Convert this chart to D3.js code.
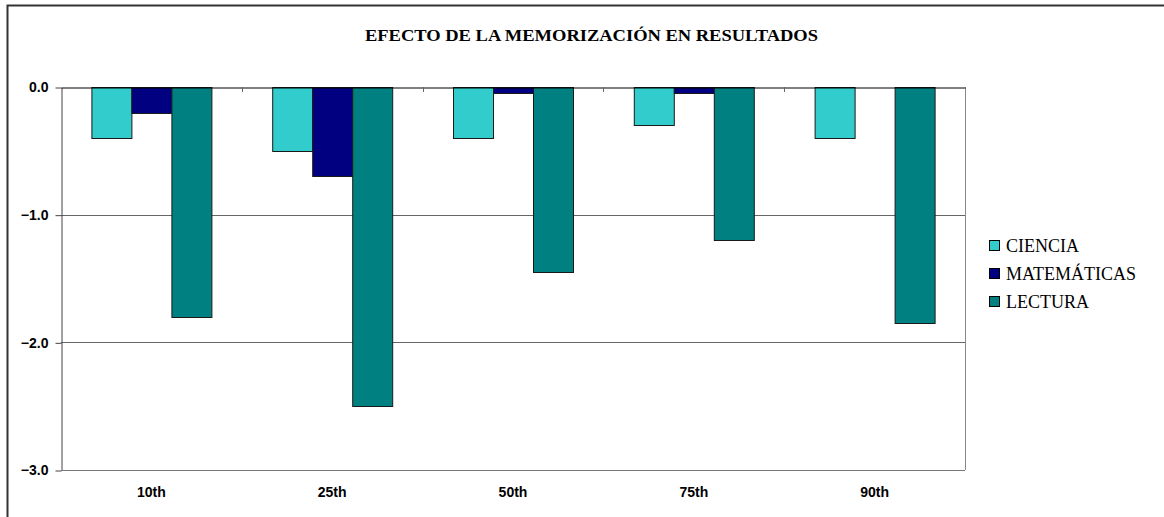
<!DOCTYPE html>
<html>
<head>
<meta charset="utf-8">
<script src="https://cdn.jsdelivr.net/npm/d3@7"></script>
<style>
  body { margin: 0; background: #fff; }
</style>
</head>
<body>
<script>
(function (d3) {
	'use strict';

	var width = 1164,
	    height = 517;

	// data
	var categories = ['10th', '25th', '50th', '75th', '90th'];
	var seriesNames = ['CIENCIA', 'MATEMÁTICAS', 'LECTURA'];
	var ciencia = [-0.4, -0.5, -0.4, -0.3, -0.4];
	var matematicas = [-0.2, -0.7, -0.05, -0.05, 0];
	var lectura = [-1.8, -2.5, -1.45, -1.2, -1.85];
	var yTicks = [0, -1, -2, -3];
	var colors = ['#33CCCC', '#000080', '#008080'];

	var series = [ciencia, matematicas, lectura];

	var plot = { left: 61, right: 965, top: 87, bottom: 470 };

	var svg = d3.select('body')
		.append('svg')
		.attr('width', width)
		.attr('height', height);

	// outer chart border
	svg.append('rect')
		.attr('x', 7.5)
		.attr('y', 5.5)
		.attr('width', width + 10)
		.attr('height', height + 10)
		.attr('fill', 'none')
		.attr('stroke', '#333')
		.attr('stroke-width', 2);

	svg.append('text')
		.attr('x', 365)
		.attr('y', 41)
		.attr('textLength', 453)
		.attr('lengthAdjust', 'spacingAndGlyphs')
		.attr('font-family', '"Liberation Serif", "Times New Roman", serif')
		.attr('font-weight', 'bold')
		.attr('font-size', '16px')
		.text('EFECTO DE LA MEMORIZACIÓN EN RESULTADOS');

	var x0 = d3.scaleBand()
		.domain(categories)
		.range([plot.left, plot.right]);

	var x1 = d3.scaleBand()
		.domain(d3.range(series.length))
		.range([0, 120]);

	var y = d3.scaleLinear()
		.domain([-3, 0])
		.range([plot.bottom, plot.top]);

	// gridlines
	svg.selectAll('line.grid')
		.data(yTicks.filter(function (d) { return d !== 0; }))
		.enter()
		.append('line')
		.attr('class', 'grid')
		.attr('x1', plot.left)
		.attr('x2', plot.right)
		.attr('y1', function (d) { return Math.round(y(d)) + 0.5; })
		.attr('y2', function (d) { return Math.round(y(d)) + 0.5; })
		.attr('stroke', '#666')
		.attr('stroke-width', 1);

	// right border of plot area
	svg.append('line')
		.attr('x1', plot.right + 0.5)
		.attr('x2', plot.right + 0.5)
		.attr('y1', plot.top)
		.attr('y2', plot.bottom)
		.attr('stroke', '#888');

	// bars
	var groups = svg.selectAll('g.cat')
		.data(categories)
		.enter()
		.append('g')
		.attr('class', 'cat')
		.attr('transform', function (d) {
			return 'translate(' + (x0(d) + (x0.bandwidth() - 120) / 2) + ',0)';
		});

	groups.selectAll('rect')
		.data(function (d, i) {
			return series.map(function (s, k) { return { k: k, v: s[i] }; })
				.filter(function (e) { return e.v !== 0; });
		})
		.enter()
		.append('rect')
		.attr('x', function (d) { return Math.round(x1(d.k)) + 0.5; })
		.attr('y', Math.round(y(0)) + 0.5)
		.attr('width', x1.bandwidth())
		.attr('height', function (d) { return Math.round(y(d.v) - y(0)); })
		.attr('fill', function (d) { return colors[d.k]; })
		.attr('stroke', '#1a1a1a')
		.attr('stroke-width', 1);

	// y axis
	var yAxis = svg.append('g')
		.attr('transform', 'translate(' + (plot.left + 0.5) + ',0.5)')
		.call(d3.axisLeft(y).tickValues(yTicks).tickSize(6).tickSizeOuter(0)
			.tickFormat(d3.format('.1f')));
	yAxis.select('.domain').attr('stroke', '#444');
	yAxis.selectAll('.tick line').attr('stroke', '#444');
	yAxis.selectAll('.tick text')
		.attr('x', -13)
		.attr('font-family', 'Arial, "Liberation Sans", sans-serif')
		.attr('font-weight', 'bold')
		.attr('font-size', '14px')
		.attr('fill', '#000');

	// x axis at zero
	var xAxis = svg.append('g')
		.attr('transform', 'translate(0,' + (Math.round(y(0)) + 0.5) + ')')
		.call(d3.axisBottom(x0).tickSize(0).tickSizeOuter(0));
	xAxis.select('.domain').attr('stroke', '#000');
	xAxis.selectAll('.tick text').remove();

	// tick marks on category boundaries
	svg.selectAll('line.xtick')
		.data(categories.slice(1))
		.enter()
		.append('line')
		.attr('class', 'xtick')
		.attr('x1', function (d) { return Math.round(x0(d)) + 0.5; })
		.attr('x2', function (d) { return Math.round(x0(d)) + 0.5; })
		.attr('y1', y(0))
		.attr('y2', y(0) + 5)
		.attr('stroke', '#666');

	// bottom line of plot area
	svg.append('line')
		.attr('x1', plot.left)
		.attr('x2', plot.right)
		.attr('y1', Math.round(y(-3)) + 0.5)
		.attr('y2', Math.round(y(-3)) + 0.5)
		.attr('stroke', '#777');

	// category labels at bottom
	svg.selectAll('text.cat')
		.data(categories)
		.enter()
		.append('text')
		.attr('class', 'cat')
		.attr('x', function (d) { return x0(d) + x0.bandwidth() / 2; })
		.attr('y', 497)
		.attr('text-anchor', 'middle')
		.attr('font-family', 'Arial, "Liberation Sans", sans-serif')
		.attr('font-weight', 'bold')
		.attr('font-size', '14px')
		.text(function (d) { return d; });

	// legend
	var legend = svg.selectAll('g.legend')
		.data(seriesNames)
		.enter()
		.append('g')
		.attr('class', 'legend')
		.attr('transform', function (d, i) { return 'translate(989,' + (240 + i * 28) + ')'; });

	legend.append('rect')
		.attr('x', 0.5)
		.attr('y', 0.5)
		.attr('width', 10)
		.attr('height', 10)
		.attr('fill', function (d, i) { return colors[i]; })
		.attr('stroke', '#000');

	legend.append('text')
		.attr('x', 17)
		.attr('y', 12)
		.attr('font-family', '"Liberation Serif", "Times New Roman", serif')
		.attr('font-size', '18px')
		.text(function (d) { return d; });

})(d3);
</script>
</body>
</html>
